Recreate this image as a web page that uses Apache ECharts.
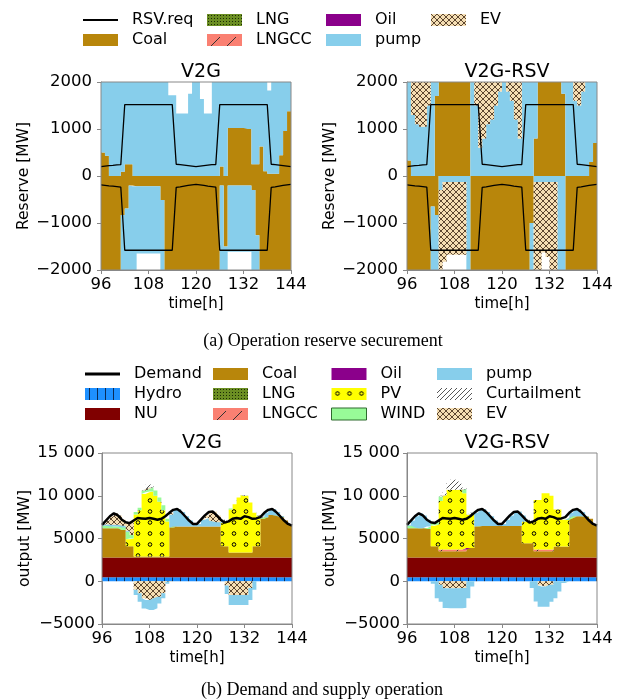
<!DOCTYPE html>
<html><head><meta charset="utf-8">
<script src="https://cdn.jsdelivr.net/npm/echarts@6/dist/echarts.min.js"></script>
<style>html,body{margin:0;padding:0;background:#fff}#c{width:622px;height:700px}</style>
</head><body><div id="c"></div>
<script>
// ---------- data (hours 96..143 step values; lines at 96..144) ----------
const hours = [96,97,98,99,100,101,102,103,104,105,106,107,108,109,110,111,112,113,114,115,116,117,118,119,120,121,122,123,124,125,126,127,128,129,130,131,132,133,134,135,136,137,138,139,140,141,142,143,144];
const xTicks = [96,108,120,132,144];

// (a) reserve: RSV requirement lines
const rsvUp = [200,210,220,225,235,240,1520,1520,1520,1520,1520,1520,1520,1520,1520,1520,1520,1520,1520,250,240,230,220,210,200,210,220,230,240,245,1520,1520,1520,1520,1520,1520,1520,1520,1520,1520,1520,1520,1520,250,240,230,220,210,200];
const rsvDn = [-190,-200,-210,-215,-225,-235,-1580,-1580,-1580,-1580,-1580,-1580,-1580,-1580,-1580,-1580,-1580,-1580,-1580,-240,-230,-215,-200,-190,-180,-190,-200,-215,-225,-235,-1580,-1580,-1580,-1580,-1580,-1580,-1580,-1580,-1580,-1580,-1580,-1580,-1580,-240,-230,-215,-200,-190,-180];

// (a) V2G
const coalUpL = [500,430,0,0,0,90,250,250,0,0,0,0,0,0,0,0,0,0,0,0,0,0,0,0,0,0,0,0,0,0,200,0,1020,1020,1020,1020,1020,1000,250,250,630,100,50,50,50,440,960,1380];
const pumpUpL = [1600,1670,2100,2100,2100,2010,1850,1850,2100,2100,2100,2100,2100,2100,2100,2100,2100,1720,1720,1330,1330,1330,1750,2100,2100,1640,1330,1330,2100,2100,1900,2100,1080,1080,1080,1080,1080,1100,1850,1850,1470,2000,1770,2050,2050,1660,1140,720];
const coalDnL = [-2100,-2100,-2100,-2100,-2100,-830,-690,-200,-220,-220,-220,-220,-220,-220,-220,-510,-2100,-2100,-2100,-2100,-2100,-2100,-2100,-2100,-2100,-2100,-2100,-2100,-2100,-2100,-200,-1500,-200,-200,-200,-200,-200,-200,-300,-1260,-2100,-2100,-2100,-2100,-2100,-2100,-2100,-2100];
const pumpDnL = [0,0,0,0,0,-1270,-1410,-1900,-1880,-1430,-1430,-1430,-1430,-1430,-1430,-1590,0,0,0,0,0,0,0,0,0,0,0,0,0,0,-1900,-600,-1410,-1410,-1410,-1410,-1410,-1410,-1800,-840,0,0,0,0,0,0,0,0];

// (a) V2G-RSV
const coalUpR = [330,0,0,0,0,0,0,1700,2100,2100,2100,2100,2100,2100,2100,2100,0,0,0,0,0,0,0,0,0,0,0,0,0,0,0,0,800,2100,2100,2100,2100,2100,2100,1750,0,0,0,0,0,0,300,700];
const pumpUpR = [1770,1300,1100,1050,1050,1500,2100,400,0,0,0,0,0,0,0,0,2100,1500,600,800,1100,1200,1500,1800,2100,1800,1600,1200,800,2100,2100,2100,1300,0,0,0,0,0,0,350,2100,2100,1600,1500,1800,2100,1800,1400];
const evUpR   = [0,800,1000,1050,1050,600,0,0,0,0,0,0,0,0,0,0,0,600,1500,1300,1000,900,600,300,0,300,500,900,1300,0,0,0,0,0,0,0,0,0,0,0,0,0,500,600,300,0,0,0];
const coalDnR = [-2100,-2100,-2100,-2100,-2100,-2100,-650,-830,0,0,0,0,0,0,0,0,-2100,-2100,-2100,-2100,-2100,-2100,-2100,-2100,-2100,-2100,-2100,-2100,-2100,-2100,-2100,-1000,0,0,0,0,0,0,0,0,-2100,-2100,-2100,-2100,-2100,-2100,-2100,-2100];
const pumpDnR = [0,0,0,0,0,0,-1450,-1270,-300,-125,-125,-125,-125,-125,-125,-2100,0,0,0,0,0,0,0,0,0,0,0,0,0,0,0,-1100,-125,-125,-125,-125,-125,-125,-2100,-2100,0,0,0,0,0,0,0,0];
const evDnR   = [0,0,0,0,0,0,0,0,-1800,-1700,-1550,-1550,-1550,-1550,-1550,0,0,0,0,0,0,0,0,0,0,0,0,0,0,0,0,0,-1975,-1975,-1500,-1600,-1975,-1975,0,0,0,0,0,0,0,0,0,0];

// (b) demand
const demand = [6600,7100,7600,7950,7700,7200,6900,6800,7100,7400,7350,7300,7400,7300,7200,7300,7600,8000,8350,8450,8100,7600,7100,6700,6700,7200,7700,8100,8150,7700,7200,6850,7000,7300,7400,7300,7600,7500,7300,7350,7500,8000,8350,8450,8100,7600,7100,6700,6500];

// (b) common
const hydro = [480,480,480,480,480,480,480,480,480,480,480,480,480,480,480,480,480,480,480,480,480,480,480,480,480,480,480,480,480,480,480,480,480,480,480,480,480,480,480,480,480,480,480,480,480,480,480,480];
const nu    = [2300,2300,2300,2300,2300,2300,2300,2300,2300,2300,2300,2300,2300,2300,2300,2300,2300,2300,2300,2300,2300,2300,2300,2300,2300,2300,2300,2300,2300,2300,2300,2300,2300,2300,2300,2300,2300,2300,2300,2300,2300,2300,2300,2300,2300,2300,2300,2300];
const zeros = [0,0,0,0,0,0,0,0,0,0,0,0,0,0,0,0,0,0,0,0,0,0,0,0,0,0,0,0,0,0,0,0,0,0,0,0,0,0,0,0,0,0,0,0,0,0,0,0];

// (b) V2G
const coalL   = [3420,3420,3420,3420,3420,3220,1320,1320,120,120,120,120,120,120,120,120,120,3520,3620,3620,3620,3620,3620,3620,3620,3620,3620,3620,3620,3620,1320,1320,570,570,570,570,570,570,1320,1320,4520,4720,4970,4970,4920,4720,4320,3820];
const pvL     = [0,0,0,0,0,0,800,900,4900,5400,7300,7500,7600,7100,6400,5400,4100,0,0,0,0,0,0,0,0,0,0,0,0,0,2700,2800,5050,5650,6450,6750,6650,5850,3900,3500,0,0,0,0,0,0,0,0];
const windL   = [300,300,200,200,200,300,900,400,300,300,400,400,500,600,500,600,300,0,0,0,0,0,0,0,0,0,0,0,0,0,0,100,100,0,0,0,0,0,0,100,0,0,0,0,0,0,0,0];
const pumpPL  = [100,200,200,200,200,200,100,0,0,0,0,0,0,0,0,0,0,1500,1950,2050,1700,1200,700,300,300,800,1000,700,600,500,400,0,0,0,0,0,0,0,0,0,200,500,600,700,400,100,0,100];
const evPL    = [0,400,1000,1350,1100,700,1000,1400,0,0,0,0,0,0,0,0,0,200,0,0,0,0,0,0,0,0,300,1000,1150,800,0,0,0,0,0,0,0,0,0,0,0,0,0,0,0,0,0,0];
const curtL   = [0,0,0,0,0,0,0,0,0,0,200,500,400,0,0,0,0,0,0,0,0,0,0,0,0,0,0,0,0,0,0,0,0,0,0,0,0,0,0,0,0,0,0,0,0,0,0,0];
const pumpNL  = [0,0,0,0,0,0,0,0,-600,-1000,-1200,-1150,-1150,-1150,-800,-600,-200,0,0,0,0,0,0,0,0,0,0,0,0,0,0,-1000,-1170,-1170,-1170,-1170,-1170,-1400,-1000,0,0,0,0,0,0,0,0,0];
const evNL    = [0,0,0,0,0,0,0,0,-1000,-1400,-2000,-2200,-2200,-2000,-1800,-1400,-100,0,0,0,0,0,0,0,0,0,0,0,0,0,0,-500,-1600,-1600,-1600,-1600,-1600,-800,0,0,0,0,0,0,0,0,0,0];

// (b) V2G-RSV
const coalR   = [3420,3420,3420,3420,3420,3320,1320,1320,720,720,720,720,720,720,720,1120,1120,3620,3670,3670,3670,3670,3670,3670,3670,3670,3670,3670,3670,1670,1670,1670,720,720,720,720,720,1280,1280,1280,1280,4620,4820,4820,4820,4770,4520,3920];
const lngccR  = [0,0,0,0,0,0,0,0,200,200,200,200,200,200,200,0,0,0,0,0,0,0,0,0,0,0,0,0,0,0,0,0,200,200,200,200,200,0,0,0,0,0,0,0,0,0,0,0];
const pvR     = [0,0,0,0,0,0,2400,2500,5700,6400,7000,7000,7000,7000,6600,3900,3900,0,0,0,0,0,0,0,0,0,0,0,0,2550,2550,2550,5800,5800,6600,6600,6300,4340,4340,3140,3140,0,0,0,0,0,0,0];
const windR   = [300,300,100,0,0,300,300,400,500,0,0,0,0,0,500,0,200,0,0,0,0,0,0,0,0,0,0,0,0,0,0,0,0,0,0,0,0,0,0,0,0,0,0,0,0,0,0,0];
const pumpPR  = [100,600,1300,1750,1500,800,100,0,0,0,0,0,0,0,0,0,0,1600,1900,2000,1650,1150,650,250,250,750,1250,1650,1700,700,200,0,0,0,0,0,0,0,0,0,0,600,750,850,500,50,0,0];
const curtR   = [0,0,0,0,0,0,0,0,0,300,800,1200,1100,700,100,0,0,0,0,0,0,0,0,0,0,0,0,0,0,0,0,0,0,0,0,0,0,0,0,0,0,0,0,0,0,0,0,0];
const pumpNR  = [0,0,0,0,0,0,-300,-2000,-2000,-2340,-2340,-2340,-2340,-2340,-2300,-2000,-600,0,0,0,0,0,0,0,0,0,0,0,0,0,0,-800,-2380,-2470,-2350,-2350,-2000,-2000,-1200,-200,0,0,0,0,0,0,0,0];
const evNR    = [0,0,0,0,0,0,0,0,-400,-800,-820,-820,-820,-820,-800,0,0,0,0,0,0,0,0,0,0,0,0,0,0,0,0,0,0,-500,-620,-620,-400,0,0,0,0,0,0,0,0,0,0,0];

// ---------- styles ----------
const FONT = 'DejaVu Sans';
function tile(w,h,bg,fn){const c=document.createElement('canvas');c.width=w;c.height=h;const g=c.getContext('2d');g.fillStyle=bg;g.fillRect(0,0,w,h);fn(g);return {image:c,repeat:'repeat'};}
const C_COAL='#b8860b', C_PUMP='#87ceeb', C_OIL='#8b008b', C_NU='#800000', C_WIND='#98fb98';
const P_EV = tile(6,6,'#f5deb3',g=>{g.strokeStyle='#5c4630';g.lineWidth=1;g.beginPath();g.moveTo(0,0);g.lineTo(6,6);g.moveTo(6,0);g.lineTo(0,6);g.stroke();});
const P_LNG = tile(3,3,'#6b8e23',g=>{g.fillStyle='#1a2a05';g.fillRect(1,1,1,1);});
const P_LNGCC = tile(16,16,'#fa8072',g=>{g.strokeStyle='#333';g.lineWidth=1;g.beginPath();g.moveTo(3,13);g.lineTo(13,3);g.stroke();});
const P_PV = tile(12,11,'#ffff00',g=>{g.strokeStyle='#000';g.lineWidth=1;g.beginPath();g.arc(6,5.5,1.8,0,Math.PI*2);g.stroke();});
const P_CURT = tile(5,5,'#ffffff',g=>{g.strokeStyle='#444';g.lineWidth=0.9;g.beginPath();g.moveTo(0,5);g.lineTo(5,0);g.moveTo(-1,1);g.lineTo(1,-1);g.moveTo(4,6);g.lineTo(6,4);g.stroke();});
const P_HYDRO = tile(8,8,'#1e90ff',g=>{g.fillStyle='#0a2a55';g.fillRect(4,0,1,8);});

// step values: hold each hourly value to the next hour (last value held to hour 144)
function sd(vals){const d=vals.slice();d.push(vals[vals.length-1]);return d;}
function ar(name,vals,gi,stack,color){
  return {type:'line',name,xAxisIndex:gi,yAxisIndex:gi,stack,stackStrategy:'all',step:'end',symbol:'none',showSymbol:false,
    data:sd(vals),lineStyle:{width:0,opacity:0},areaStyle:{color,opacity:1},itemStyle:{color:typeof color==='string'?color:'#ccc'},silent:true,z:2};
}
function ln(name,vals,gi,w){
  return {type:'line',name,xAxisIndex:gi,yAxisIndex:gi,symbol:'none',showSymbol:false,data:vals,
    lineStyle:{color:'#000',width:w},itemStyle:{color:'#000'},silent:true,z:6};
}
const series = [
  // grid 0: (a) V2G
  ar('Coal',coalUpL,0,'u0',C_COAL), ar('pump',pumpUpL,0,'u0',C_PUMP),
  ar('Coal',coalDnL,0,'d0',C_COAL), ar('pump',pumpDnL,0,'d0',C_PUMP),
  ln('RSV.req',rsvUp,0,1.3), ln('RSV.req',rsvDn,0,1.3),
  // grid 1: (a) V2G-RSV
  ar('Coal',coalUpR,1,'u1',C_COAL), ar('pump',pumpUpR,1,'u1',C_PUMP), ar('EV',evUpR,1,'u1',P_EV),
  ar('Coal',coalDnR,1,'d1',C_COAL), ar('pump',pumpDnR,1,'d1',C_PUMP), ar('EV',evDnR,1,'d1',P_EV),
  ln('RSV.req',rsvUp,1,1.3), ln('RSV.req',rsvDn,1,1.3),
  // grid 2: (b) V2G
  ar('Hydro',hydro,2,'p2',P_HYDRO), ar('NU',nu,2,'p2',C_NU), ar('Coal',coalL,2,'p2',C_COAL),
  ar('LNG',zeros,2,'p2',P_LNG), ar('LNGCC',zeros,2,'p2',P_LNGCC), ar('Oil',zeros,2,'p2',C_OIL),
  ar('PV',pvL,2,'p2',P_PV), ar('WIND',windL,2,'p2',C_WIND), ar('pump',pumpPL,2,'p2',C_PUMP),
  ar('EV',evPL,2,'p2',P_EV), ar('Curtailment',curtL,2,'p2',P_CURT),
  ar('EV',evNL,2,'n2',P_EV), ar('pump',pumpNL,2,'n2',C_PUMP),
  ln('Demand',demand,2,2.5),
  // grid 3: (b) V2G-RSV
  ar('Hydro',hydro,3,'p3',P_HYDRO), ar('NU',nu,3,'p3',C_NU), ar('Coal',coalR,3,'p3',C_COAL),
  ar('LNG',zeros,3,'p3',P_LNG), ar('LNGCC',lngccR,3,'p3',P_LNGCC), ar('Oil',zeros,3,'p3',C_OIL),
  ar('PV',pvR,3,'p3',P_PV), ar('WIND',windR,3,'p3',C_WIND), ar('pump',pumpPR,3,'p3',C_PUMP),
  ar('EV',zeros,3,'p3',P_EV), ar('Curtailment',curtR,3,'p3',P_CURT),
  ar('EV',evNR,3,'n3',P_EV), ar('pump',pumpNR,3,'n3',C_PUMP),
  ln('Demand',demand,3,2.5)
];

const grids = [
  {left:101,top:82,width:190,height:188},
  {left:407,top:82,width:190,height:188},
  {left:102,top:453,width:190,height:171},
  {left:407,top:453,width:190,height:171}
].map(g=>Object.assign({show:true,borderColor:'#888',borderWidth:1,backgroundColor:'transparent',z:10},g));

const showTick = (idx, val) => xTicks.indexOf(Number(val)) >= 0;
function xa(gi){return {type:'category',gridIndex:gi,data:hours.map(String),boundaryGap:false,
  axisLine:{show:true,onZero:false,lineStyle:{color:'#888'}},
  axisTick:{show:true,inside:false,length:4,interval:showTick,lineStyle:{color:'#888'}},
  axisLabel:{fontSize:16.5,color:'#000',margin:6,fontFamily:FONT,interval:showTick,showMinLabel:true,showMaxLabel:true},splitLine:{show:false},
  name:'time[h]',nameLocation:'middle',nameGap:27,nameTextStyle:{fontSize:15,color:'#000',fontFamily:FONT}};}
const fmtA = v => v<0 ? '\u2212'+Math.abs(v) : String(v);
const fmtB = v => { const a=Math.abs(v); let s = a>=10000 ? Math.floor(a/1000)+' '+String(a%1000).padStart(3,'0') : String(a); return (v<0?'\u2212':'')+s; };
function ya(gi,min,max,step,name,fmt,margin,gap){return {type:'value',gridIndex:gi,min,max,interval:step,
  axisLine:{show:true,onZero:false,lineStyle:{color:'#888'}},axisTick:{show:true,inside:false,length:4,lineStyle:{color:'#888'}},
  axisLabel:{fontSize:16.5,color:'#000',margin,fontFamily:FONT,formatter:fmt},splitLine:{show:false},
  name,nameLocation:'middle',nameGap:gap,nameTextStyle:{fontSize:15.5,color:'#000',fontFamily:FONT}};}

const LINE1 = 'path://M0,0L36,0L36,2L0,2Z';
const LINE2 = 'path://M0,0L36,0L36,3L0,3Z';
function lg(left,top,gap,items){return {left,top,orient:'vertical',itemWidth:35,itemHeight:12,itemGap:gap,selectedMode:false,
  textStyle:{fontSize:16,color:'#000',fontFamily:FONT,padding:[0,0,0,9]},data:items};}
const it = (name,color,icon,extra)=>Object.assign({name,icon:icon||'rect',itemStyle:{color,borderWidth:0}},extra||{});

const option = {
  animation:false,
  textStyle:{fontFamily:FONT},
  title:[
    {text:'V2G',left:196,top:58,textAlign:'center',textStyle:{fontSize:19,fontWeight:'normal',color:'#000',fontFamily:FONT}},
    {text:'V2G-RSV',left:502,top:58,textAlign:'center',textStyle:{fontSize:19,fontWeight:'normal',color:'#000',fontFamily:FONT}},
    {text:'V2G',left:197,top:429,textAlign:'center',textStyle:{fontSize:19,fontWeight:'normal',color:'#000',fontFamily:FONT}},
    {text:'V2G-RSV',left:502,top:429,textAlign:'center',textStyle:{fontSize:19,fontWeight:'normal',color:'#000',fontFamily:FONT}},
    {text:'(a) Operation reserve securement',left:318,top:327,textAlign:'center',textStyle:{fontSize:18,fontWeight:'normal',color:'#000',fontFamily:'Liberation Serif'}},
    {text:'(b) Demand and supply operation',left:317,top:676,textAlign:'center',textStyle:{fontSize:18,fontWeight:'normal',color:'#000',fontFamily:'Liberation Serif'}}
  ],
  legend:[
    lg(78,7,4,[it('RSV.req','#000',LINE1),it('Coal',C_COAL)]),
    lg(202,7,4,[it('LNG',P_LNG),it('LNGCC',P_LNGCC)]),
    lg(321,7,4,[it('Oil',C_OIL),it('pump',C_PUMP)]),
    lg(426,7,4,[it('EV',P_EV)]),
    lg(80,361,4,[it('Demand','#000',LINE2),it('Hydro',P_HYDRO),it('NU',C_NU)]),
    lg(208,361,4,[it('Coal',C_COAL),it('LNG',P_LNG),it('LNGCC',P_LNGCC)]),
    lg(326,361,4,[it('Oil',C_OIL),it('PV',P_PV),it('WIND',C_WIND,'rect',{itemStyle:{color:C_WIND,borderColor:'#2e6b2e',borderWidth:1}})]),
    lg(432,361,4,[it('pump',C_PUMP),it('Curtailment',P_CURT),it('EV',P_EV)])
  ],
  grid:grids,
  xAxis:[xa(0),xa(1),xa(2),xa(3)],
  yAxis:[
    ya(0,-2000,2000,1000,'Reserve [MW]',fmtA,9,61),
    ya(1,-2000,2000,1000,'Reserve [MW]',fmtA,9,61),
    ya(2,-5000,15000,5000,'output [MW]',fmtB,7,62),
    ya(3,-5000,15000,5000,'output [MW]',fmtB,7,62)
  ],
  series
};
const chart = echarts.init(document.getElementById('c'),null,{renderer:'canvas'});
chart.setOption(option);
</script></body></html>
